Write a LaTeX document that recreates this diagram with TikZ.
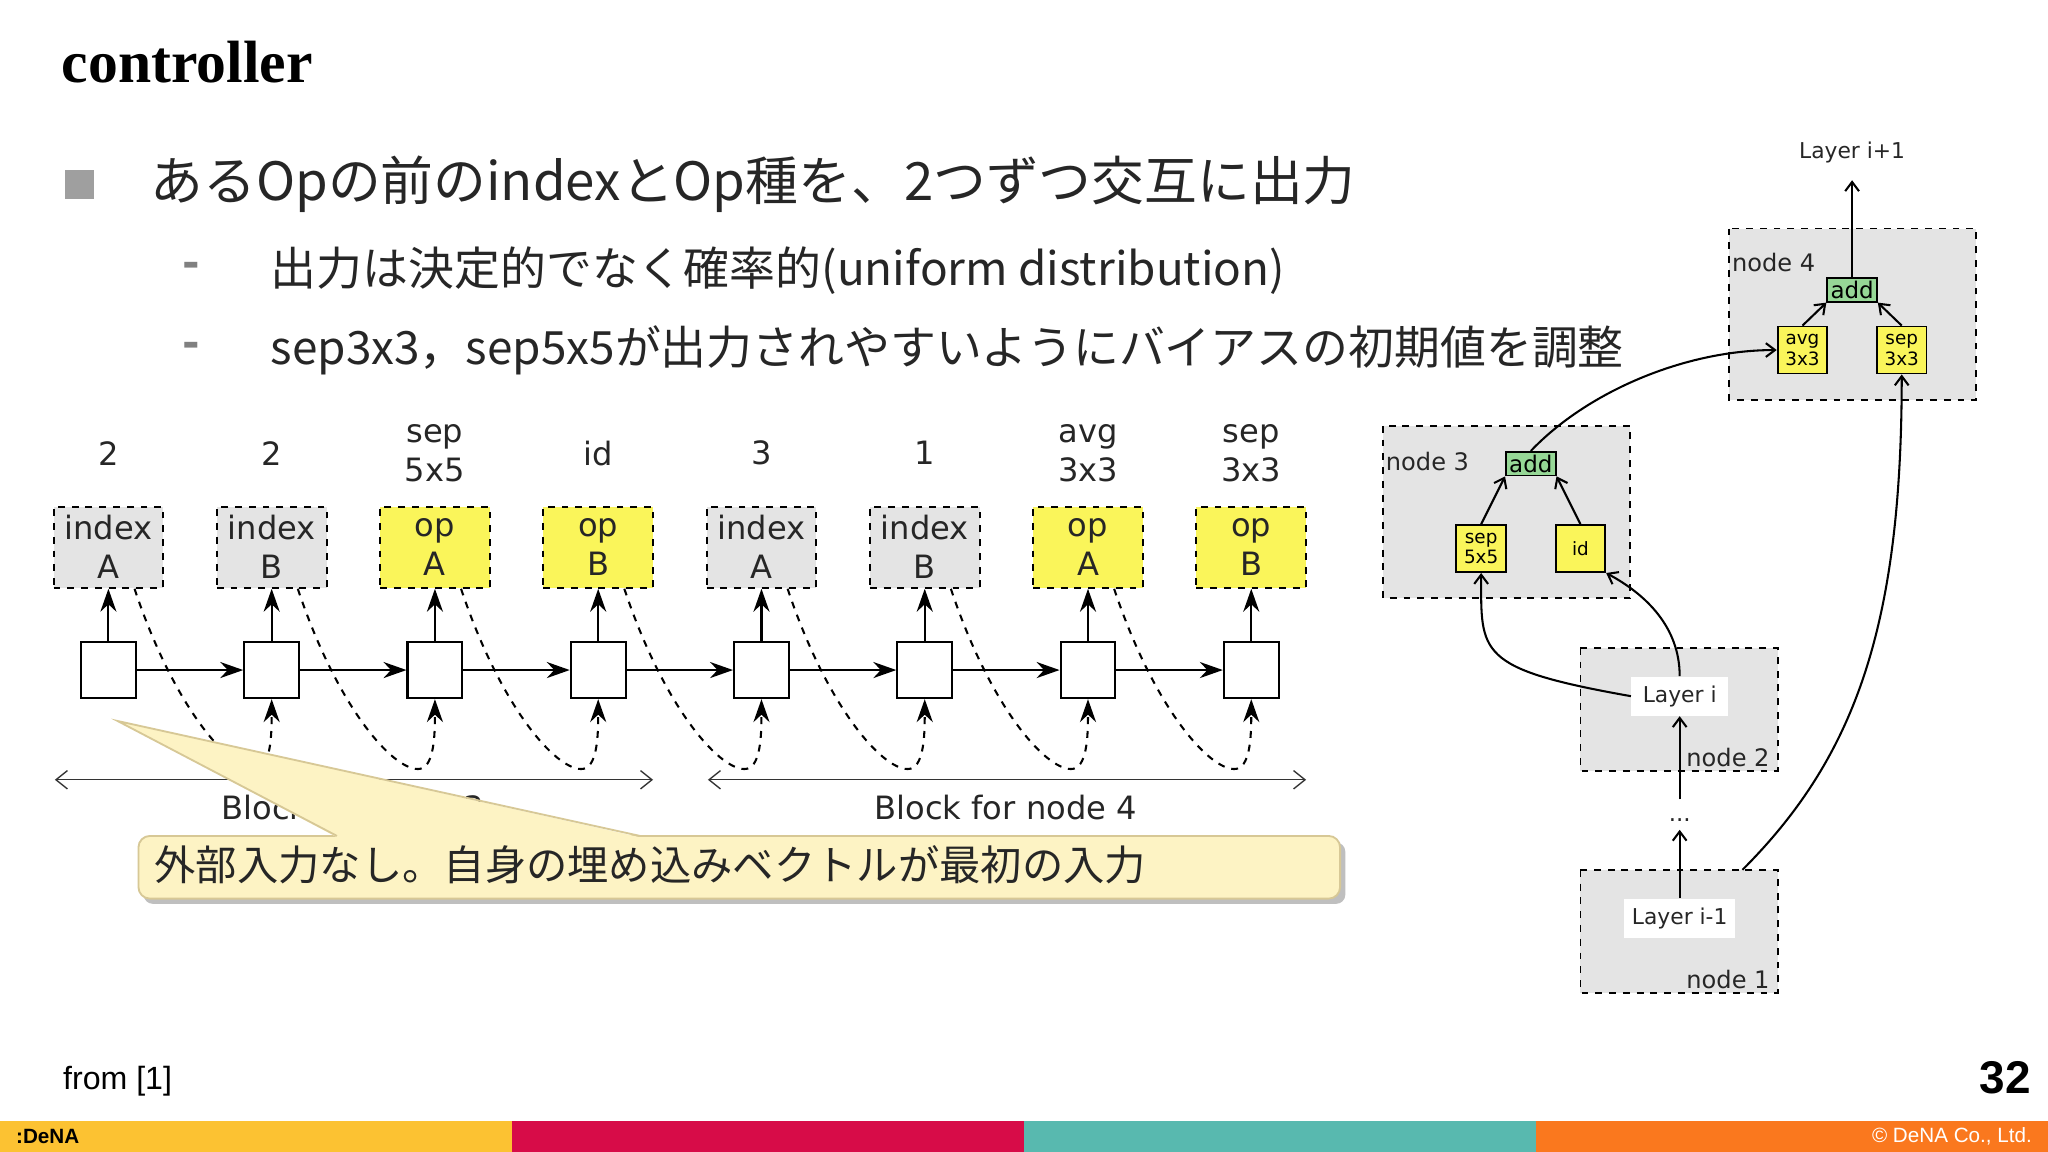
\documentclass[tikz,border=0pt]{standalone}
\usepackage{fontspec}
\setmainfont{Noto Sans CJK JP}
\newfontfamily\dv{DejaVu Sans}
\newfontfamily\ttl{Liberation Serif}
\newfontfamily\ls{Liberation Sans}
\usetikzlibrary{arrows.meta}
\definecolor{gbox}{RGB}{228,228,228}
\definecolor{ybox}{RGB}{250,245,90}
\definecolor{grn}{RGB}{150,215,150}
\definecolor{callf}{RGB}{253,243,196}
\definecolor{calld}{RGB}{215,200,150}
\begin{document}
\begin{tikzpicture}[x=0.02cm,y=-0.02cm,
  lbl/.style={font=\dv\fontsize{14}{17}\selectfont,align=center,text=black!85},
  obox/.style={draw,dashed,line width=0.9pt,minimum width=84*0.02cm,minimum height=62*0.02cm,inner sep=0pt,lbl},
  cell/.style={draw,line width=0.9pt,fill=white,minimum width=42*0.02cm,minimum height=43*0.02cm,inner sep=0pt},
  sa/.style={-{Stealth[length=10pt,width=7pt]},line width=0.9pt},
  da/.style={-{Stealth[length=10pt,width=7pt]},line width=0.9pt,dash pattern=on 3pt off 3pt},
  ra/.style={-{Straight Barb[length=4pt,width=6pt]},line width=0.9pt},
  nbox/.style={draw,dashed,line width=0.8pt,fill=gbox},
  sm/.style={draw,line width=0.8pt,inner sep=0pt,font=\dv\fontsize{8}{9}\selectfont,align=center,minimum width=38*0.02cm},
  nl/.style={font=\dv\fontsize{10.5}{12}\selectfont,text=black!85}]
\useasboundingbox (0,0) rectangle (1568,882);
\fill[white] (0,0) rectangle (1568,882);
% title and bullets
\node[anchor=base west,font=\ttl\bfseries\fontsize{26}{30}\selectfont,inner sep=0] (title) at (47,63) {controller};
\fill[gray!75] (50,130) rectangle (72,152);
\node[anchor=west,inner sep=0,font=\fontsize{23}{27}\selectfont,text=black!85] (b1) at (115,141) {あるOpの前のindexとOp種を、2つずつ交互に出力};
\node[anchor=west,inner sep=0,font=\bfseries\fontsize{20}{24}\selectfont,text=gray] (d1) at (139,207) {-};
\node[anchor=west,inner sep=0,font=\fontsize{20}{24}\selectfont,text=black!85] (b2) at (207,207) {出力は決定的でなく確率的(uniform distribution)};
\node[anchor=west,inner sep=0,font=\bfseries\fontsize{20}{24}\selectfont,text=gray] (d2) at (139,268) {-};
\node[anchor=west,inner sep=0,font=\fontsize{20}{24}\selectfont,text=black!85] (b3) at (207,268) {sep3x3，sep5x5が出力されやすいようにバイアスの初期値を調整};
% left diagram
\foreach \i/\top/\ty/\bt/\fc in {1/2/347/index\\A/gbox,2/2/347/index\\B/gbox,3/sep\\5x5/347/op\\A/ybox,4/id/347/op\\B/ybox,5/3/347/index\\A/gbox,6/1/347/index\\B/gbox,7/avg\\3x3/347/op\\A/ybox,8/sep\\3x3/347/op\\B/ybox}{
  \pgfmathsetmacro\xx{83+125*(\i-1)}
  \node[lbl] (t\i) at (\xx,\ty) {\top};
  \node[obox,fill=\fc] (o\i) at (\xx,419) {\bt};
  \node[cell] (c\i) at (\xx,513) {};
  \draw[sa] (c\i.north) -- (o\i.south);
}
\foreach \i [evaluate=\i as \j using int(\i+1)] in {1,...,7}{
  \draw[sa] (c\i.east) -- (c\j.west);
  \draw[da] ([xshift=20*0.02cm]o\i.south) .. controls ++(30,90) and ++(-20,0) .. ++(92,138) coordinate (m\i) .. controls ++(12,0) and ++(0,30) .. (c\j.south);
}
\draw[{Straight Barb[length=5pt,width=8pt]}-{Straight Barb[length=5pt,width=8pt]},line width=0.6pt,black!80] (42,597) coordinate (bl1) -- (500,597) coordinate (br1);
\draw[{Straight Barb[length=5pt,width=8pt]}-{Straight Barb[length=5pt,width=8pt]},line width=0.6pt,black!80] (542,597) coordinate (bl2) -- (1000,597) coordinate (br2);
\node[lbl] (blk1) at (270,618) {Block for node 3};
\node[lbl] (blk2) at (770,618) {Block for node 4};
% callout
\fill[black!25,rounded corners=4pt] (110,645) rectangle (1030,692);
\draw[calld,fill=callf,line width=0.8pt,rounded corners=5pt] (106,640) rectangle (1026,688);
\fill[callf] (90,552) -- (490,641) -- (258,641) -- cycle;
\draw[calld,line width=0.8pt] (258,640) -- (90,552) -- (490,640);
\node[anchor=west,inner sep=0,font=\fontsize{18}{22}\selectfont,text=black!85] (call) at (118,662) {外部入力なし。自身の埋め込みベクトルが最初の入力};
% right panel
\draw[nbox] (1324,175) rectangle (1513,306);
\draw[nbox] (1059,326) rectangle (1248,458);
\draw[nbox] (1210,496) rectangle (1361,590);
\draw[nbox] (1210,666) rectangle (1361,760);
\node[nl,anchor=west,inner xsep=1pt] (n4) at (1324,201) {node 4};
\node[nl,anchor=west,inner xsep=1pt] (n3) at (1059,353) {node 3};
\node[nl] (n2) at (1323,580) {node 2};
\node[nl] (n1) at (1323,750) {node 1};
\node[sm,fill=grn,font=\dv\fontsize{10}{12}\selectfont,minimum height=18*0.02cm] (add4) at (1418,222) {add};
\node[sm,fill=ybox,minimum height=36*0.02cm] (avg) at (1380,268) {avg\\3x3};
\node[sm,fill=ybox,minimum height=36*0.02cm] (sep3) at (1456,268) {sep\\3x3};
\node[sm,fill=grn,font=\dv\fontsize{10}{12}\selectfont,minimum height=18*0.02cm] (add3) at (1172,355) {add};
\node[sm,fill=ybox,minimum height=36*0.02cm] (sep5) at (1134,420) {sep\\5x5};
\node[sm,fill=ybox,minimum height=36*0.02cm] (idb) at (1210,420) {id};
\node[fill=white,minimum width=74*0.02cm,minimum height=30*0.02cm,nl,font=\dv\fontsize{9.5}{11}\selectfont] (li) at (1286,533) {Layer i};
\node[fill=white,minimum width=74*0.02cm,minimum height=30*0.02cm,nl,font=\dv\fontsize{9.5}{11}\selectfont] (lim) at (1286,703) {Layer i-1};
\node[nl,font=\dv\fontsize{10}{12}\selectfont] (dots) at (1286,628) {...};
\node[nl,font=\dv\fontsize{9.5}{11}\selectfont] (lip) at (1418,117) {Layer i+1};
\draw[ra] (add4.north) -- (1418,138);
\draw[ra] (avg.north) -- (add4.south west);
\draw[ra] (sep3.north) -- (add4.south east);
\draw[ra] (sep5.north) -- (add3.south west);
\draw[ra] (idb.north) -- (add3.south east);
\draw[ra] (add3.north) .. controls (1215,300) and (1290,268) .. (avg.west);
\draw[ra] (lim.north) -- (dots.south);
\draw[ra] (1286,612) -- (li.south);
\draw[ra] (li.west) .. controls (1130,512) and (1134,500) .. (sep5.south);
\draw[ra] (li.north) .. controls (1286,480) and (1260,455) .. (idb.south east);
\draw[ra] (1334,666) .. controls (1420,580) and (1456,480) .. (sep3.south);
% footer
\fill[fill={rgb,255:red,252;green,194;blue,50}] (0,858) rectangle (392,882);
\fill[fill={rgb,255:red,215;green,12;blue,72}] (392,858) rectangle (784,882);
\fill[fill={rgb,255:red,88;green,185;blue,175}] (784,858) rectangle (1176,882);
\fill[fill={rgb,255:red,250;green,120;blue,30}] (1176,858) rectangle (1568,882);
\node[anchor=west,font=\ls\bfseries\fontsize{9}{10}\selectfont,inner sep=0] (logo) at (12,870) {:DeNA};
\node[anchor=east,font=\ls\fontsize{9}{10}\selectfont,text=white,inner sep=0] (copy) at (1556,870) {© DeNA Co., Ltd.};
\node[anchor=west,font=\ls\fontsize{14}{16}\selectfont,inner sep=0] (from) at (48,828) {from [1]};
\node[anchor=east,font=\ls\bfseries\fontsize{20}{22}\selectfont,inner sep=0] (pg) at (1555,825) {32};
\end{tikzpicture}
\end{document}
